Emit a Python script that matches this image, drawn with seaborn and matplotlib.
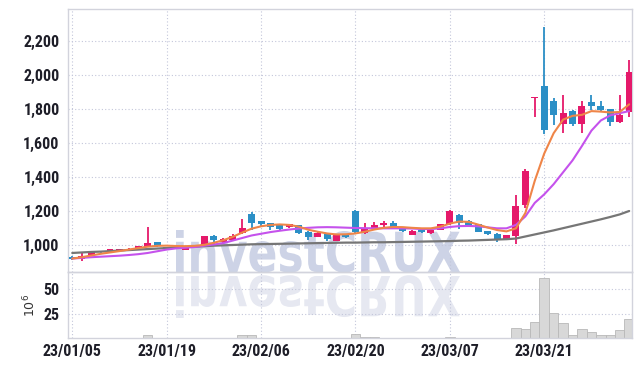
import numpy as np
import matplotlib
matplotlib.use('Agg')
import matplotlib.pyplot as plt
import seaborn as sns
from matplotlib import font_manager
from matplotlib.textpath import TextPath
from matplotlib.patches import PathPatch
from matplotlib.transforms import Affine2D, IdentityTransform
from matplotlib.ticker import FuncFormatter

# ---------------- data ----------------
tick_labels = ['23/01/05', '23/01/19', '23/02/06', '23/02/20', '23/03/07', '23/03/21']
tick_index = [0, 10, 20, 30, 40, 50]

opens = [930, 918, 943, 963, 962, 964, 970, 986, 990, 1019,
         990, 985, 974, 994, 992, 1055, 1020, 1034, 1072, 1184,
         1143, 1129, 1118, 1105, 1118, 1080, 1051, 1066, 1027, 1063,
         1203, 1071, 1094, 1120, 1133, 1100, 1061, 1090, 1070, 1090,
         1124, 1178, 1143, 1124, 1084, 1066, 1037, 1055, 1238, 1865,
         1936, 1852, 1714, 1793, 1714, 1846, 1822, 1802, 1724, 1783]
highs = [935, 953, 963, 966, 980, 980, 985, 996, 1106, 1020,
         992, 988, 990, 996, 1056, 1058, 1044, 1068, 1154, 1196,
         1145, 1132, 1120, 1126, 1120, 1082, 1076, 1068, 1068, 1066,
         1205, 1129, 1135, 1141, 1145, 1102, 1088, 1092, 1092, 1126,
         1205, 1182, 1148, 1126, 1086, 1070, 1062, 1297, 1448, 1873,
         2286, 1867, 1887, 1795, 1852, 1885, 1848, 1804, 1887, 2090]
lows = [915, 907, 938, 957, 960, 962, 966, 980, 988, 992,
        978, 978, 972, 988, 990, 1008, 1016, 1032, 1068, 1090,
        1110, 1090, 1092, 1100, 1068, 1033, 1049, 1027, 1025, 1046,
        1069, 1068, 1090, 1103, 1104, 1080, 1058, 1074, 1068, 1088,
        1122, 1094, 1112, 1078, 1062, 1022, 1035, 1008, 1218, 1755,
        1657, 1710, 1661, 1704, 1661, 1798, 1789, 1704, 1720, 1755]
closes = [920, 940, 959, 958, 977, 978, 980, 994, 1014, 994,
          982, 980, 988, 990, 1055, 1034, 1036, 1056, 1103, 1134,
          1125, 1106, 1098, 1123, 1074, 1051, 1074, 1039, 1066, 1050,
          1080, 1100, 1119, 1133, 1106, 1084, 1086, 1076, 1090, 1124,
          1203, 1129, 1119, 1080, 1065, 1037, 1060, 1232, 1439, 1873,
          1677, 1769, 1779, 1714, 1822, 1818, 1798, 1724, 1769, 2021]

ma_short = [922, 930, 940, 950, 958, 966, 975, 984, 992, 997,
            998, 996, 995, 997, 1003, 1015, 1030, 1050, 1075, 1098,
            1112, 1120, 1123, 1120, 1110, 1092, 1080, 1070, 1064, 1065,
            1070, 1080, 1093, 1103, 1108, 1107, 1103, 1100, 1100, 1110,
            1128, 1140, 1138, 1122, 1105, 1090, 1082, 1100, 1190, 1380,
            1540, 1660, 1740, 1762, 1768, 1790, 1787, 1782, 1785, 1830]
ma_mid = [922, 926, 930, 933, 936, 939, 943, 948, 955, 965,
          975, 982, 986, 990, 998, 1005, 1013, 1028, 1043, 1058,
          1068, 1078, 1086, 1093, 1099, 1103, 1106, 1107, 1106, 1104,
          1102, 1101, 1100, 1100, 1100, 1100, 1099, 1096, 1096, 1100,
          1108, 1113, 1114, 1112, 1106, 1100, 1100, 1120, 1170, 1250,
          1300, 1360, 1430, 1500, 1585, 1675, 1735, 1765, 1778, 1790]
ma_long = [955, 958, 961, 963, 966, 969, 972, 975, 978, 981,
           984, 987, 990, 992, 995, 998, 1000, 1002, 1004, 1006,
           1007, 1008, 1009, 1010, 1011, 1012, 1013, 1014, 1015, 1016,
           1016, 1017, 1018, 1018, 1019, 1020, 1021, 1022, 1023, 1024,
           1025, 1027, 1028, 1030, 1032, 1034, 1036, 1040, 1052, 1064,
           1076, 1088, 1101, 1114, 1127, 1140, 1153, 1167, 1182, 1202]

volume = [0.2, 0.2, 0.3, 0.2, 0.2, 0.3, 0.2, 0.3, 3.5, 0.4,
          0.2, 0.2, 0.2, 0.2, 0.3, 0.3, 0.2, 0.3, 3.5, 3.5,
          0.4, 0.3, 0.2, 0.2, 0.2, 0.2, 0.2, 0.2, 0.2, 0.3,
          4.5, 1.0, 1.0, 0.3, 0.2, 0.2, 0.2, 0.2, 0.2, 0.3,
          1.0, 0.4, 0.2, 0.2, 0.2, 0.2, 0.3, 10.4, 9.4, 16.7,
          61.5, 25.3, 15.6, 3.5, 9.4, 6.6, 3.5, 3.5, 8.3, 19.8]

# ---------------- style ----------------
RED = '#e5196a'
BLUE = '#2b8fc6'
GRID = '#c3c6da'
SPINE = '#d2d3dc'

sns.set_style('white')
narrow = 'DejaVu Sans'
for fam in ['Liberation Sans Narrow', 'Roboto Condensed', 'DejaVu Sans']:
    try:
        font_manager.findfont(font_manager.FontProperties(family=fam),
                              fallback_to_default=False)
        narrow = fam
        break
    except Exception:
        pass
plt.rcParams['font.family'] = [narrow, 'DejaVu Sans']

W, H = 642, 366
fig = plt.figure(figsize=(W / 100, H / 100), dpi=100)
fig.patch.set_facecolor('white')

L, R = 68, 632
axp = fig.add_axes([L / W, 1 - 272 / H, (R - L) / W, (272 - 9) / H])
axv = fig.add_axes([L / W, 1 - 338 / H, (R - L) / W, (338 - 272) / H], sharex=axp)
for ax in (axp, axv):
    ax.set_facecolor('none')

# ---------------- watermark ----------------
fp = font_manager.FontProperties(family='DejaVu Sans', weight='bold')
tp = TextPath((0, 0), 'investCRUX', size=1, prop=fp)
ext = tp.get_extents()
sx = (460 - 176) / ext.width
sy = 42 / ext.y1
t_main = Affine2D().translate(-ext.x0, 0).scale(sx, sy).translate(176, H - 272)
t_refl = Affine2D().translate(-ext.x0, 0).scale(sx, -sy).translate(176, H - 276)
fig.add_artist(PathPatch(t_main.transform_path(tp), facecolor='#cdd3e6',
                         edgecolor='none', transform=IdentityTransform(), zorder=-1))
fig.add_artist(PathPatch(t_refl.transform_path(tp), facecolor='#e6e8f1',
                         edgecolor='none', transform=IdentityTransform(), zorder=-1))

# ---------------- candles ----------------
x = np.arange(len(opens))
o = np.array(opens, float)
c = np.array(closes, float)
hi = np.array(highs, float)
lo = np.array(lows, float)
cols = np.where(c >= o, RED, BLUE)
axp.vlines(x, lo, hi, colors=cols, lw=1.3, zorder=2)
body = np.maximum(np.abs(c - o), 4)
axp.bar(x, body, bottom=np.minimum(o, c), width=0.74, color=cols,
        linewidth=0, zorder=3)

sns.lineplot(x=x, y=ma_long, ax=axp, color='#767676', lw=1.6, zorder=4)
sns.lineplot(x=x, y=ma_mid, ax=axp, color='#c552ec', lw=1.5, zorder=4)
sns.lineplot(x=x, y=ma_short, ax=axp, color='#ef8548', lw=1.5, zorder=4)

# ---------------- volume ----------------
sns.barplot(x=x, y=volume, ax=axv, native_scale=True, color='#d8d8d8',
            edgecolor='#b8b8b8', linewidth=0.6, width=1.0, saturation=1,
            errorbar=None, zorder=2)

# ---------------- axes styling ----------------
axp.set_xlim(-0.45, 59.3)
axp.set_ylim(843, 2391)
axv.set_ylim(0, 67.7)

axp.set_yticks([1000, 1200, 1400, 1600, 1800, 2000, 2200])
axp.yaxis.set_major_formatter(FuncFormatter(lambda v, p: f'{v:,.0f}'))
axv.set_yticks([25, 50])
axv.set_xticks(tick_index)
axv.set_xticklabels(tick_labels)

for ax in (axp, axv):
    ax.grid(True, linestyle=(0, (1, 2)), color=GRID, lw=0.8)
    ax.set_axisbelow(True)
    ax.tick_params(length=0, labelcolor='#1e1e28')
    for s in ax.spines.values():
        s.set_color(SPINE)
        s.set_linewidth(1.0)
    ax.set_xlabel('')
    ax.set_ylabel('')

axp.tick_params(axis='y', labelsize=11.5, pad=6)
axp.tick_params(axis='x', labelbottom=False)
axv.tick_params(axis='y', labelsize=11.5, pad=6)
axv.tick_params(axis='x', labelsize=11.5, pad=4)
for lab in axp.get_yticklabels() + axv.get_yticklabels() + axv.get_xticklabels():
    lab.set_fontweight('bold')

axv.set_ylabel(r'$10^6$', fontsize=9, color='#333333', family='DejaVu Sans',
               labelpad=4)

fig.savefig('out.png', dpi=100)
